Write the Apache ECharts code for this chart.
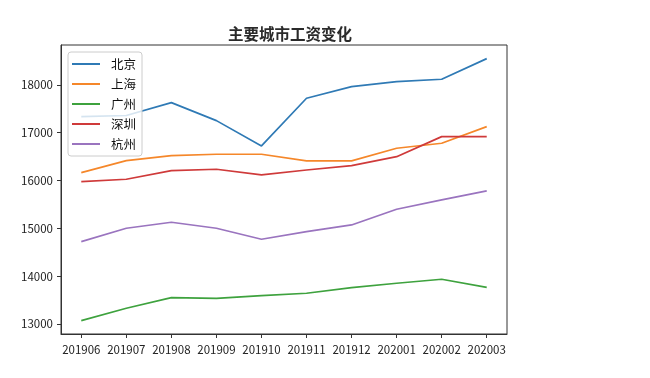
<!DOCTYPE html>
<html><head><meta charset="utf-8">
<script src="https://cdn.jsdelivr.net/npm/echarts@6/dist/echarts.min.js"></script>
<style>html,body{margin:0;padding:0;background:#fff}#c{width:650px;height:378px}</style>
</head><body><div id="c"></div>
<script>
const months = ['201906','201907','201908','201909','201910','201911','201912','202001','202002','202003'];
const cityNames = ['北京','上海','广州','深圳','杭州'];
const beijing  = [17337,17360,17630,17253,16724,17722,17965,18069,18119,18550];
const shanghai = [16165,16416,16521,16550,16550,16410,16410,16675,16780,17128];
const guangzhou= [13069,13328,13550,13537,13592,13642,13760,13851,13935,13767];
const shenzhen = [15977,16027,16207,16236,16117,16220,16311,16499,16918,16918];
const hangzhou = [14722,15002,15127,15002,14772,14931,15071,15400,15594,15782];
const yTicks = [13000,14000,15000,16000,17000,18000];

const seriesValues = [beijing, shanghai, guangzhou, shenzhen, hangzhou];
const colors = ['#2f7ab5','#f5872a','#3ea23e','#cf3a3a','#9a74bf'];
const idx = months.map((m,i)=>i);
const font = '"Noto Sans CJK SC", "Noto Sans", sans-serif';

const chart = echarts.init(document.getElementById('c'), null, {renderer:'canvas'});
chart.setOption({
  animation:false,
  color: colors,
  title:{text:'主要城市工资变化', left:285, top:21, textAlign:'center',
    textStyle:{fontFamily:font, fontSize:15.5, fontWeight:'bold', color:'#2a2a2a'}},
  grid:{left:61, right:143, top:45, bottom:44, show:true, borderColor:'#333', borderWidth:1, backgroundColor:'transparent'},
  legend:{orient:'vertical', left:68, top:52, icon:'rect', itemWidth:28, itemHeight:2, itemGap:6,
    padding:[5,6,5,4], backgroundColor:'rgba(255,255,255,0.8)', borderColor:'#ccc', borderWidth:1, borderRadius:3,
    textStyle:{fontFamily:font, fontSize:12.5, lineHeight:14, color:'#111', padding:[0,0,0,6]},
    data: cityNames},
  xAxis:{type:'value', min:-0.45, max:9.45,
    axisLine:{show:true, onZero:false, lineStyle:{color:'#333'}},
    axisTick:{show:true, length:4, inside:false, customValues:idx, lineStyle:{color:'#333'}},
    axisLabel:{customValues:idx, formatter:v=>months[Math.round(v)], fontFamily:font, fontSize:11.5, color:'#222', margin:10},
    splitLine:{show:false}},
  yAxis:{type:'value', min:12790, max:18835,
    axisLine:{show:true, onZero:false, lineStyle:{color:'#333'}},
    axisTick:{show:true, length:4, inside:false, customValues:yTicks, lineStyle:{color:'#333'}},
    axisLabel:{customValues:yTicks, formatter:v=>String(v), fontFamily:font, fontSize:11.5, color:'#222', margin:8},
    splitLine:{show:false}},
  series: seriesValues.map((vals,k)=>({
    name: cityNames[k], type:'line', symbol:'none', z:1,
    lineStyle:{width:1.7, color:colors[k]}, itemStyle:{color:colors[k]},
    data: vals.map((v,i)=>[i,v])
  }))
});
</script></body></html>
